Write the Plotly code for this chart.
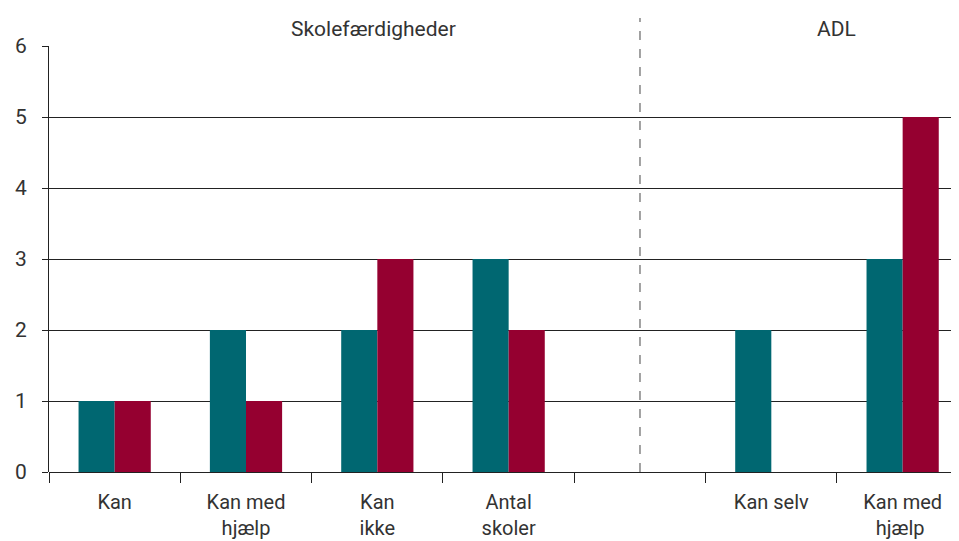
import plotly.graph_objects as go

categories = ["Kan", "Kan med<br>hjælp", "Kan<br>ikke", "Antal<br>skoler", " ", "Kan selv", "Kan med<br>hjælp "]
series_a = [1, 2, 2, 3, None, 2, 3]
series_b = [1, 1, 3, 2, None, 0, 5]

TEAL = "#006771"
CRIMSON = "#950030"
TEXT = "#333333"
FONT = "Roboto, Open Sans, sans-serif"

fig = go.Figure()
fig.add_trace(go.Bar(x=categories, y=series_a, marker=dict(color=TEAL, line=dict(width=0)), name="A"))
fig.add_trace(go.Bar(x=categories, y=series_b, marker=dict(color=CRIMSON, line=dict(width=0)), name="B"))

# page body has an 8px margin, so margins are set relative to that offset
fig.update_layout(
    width=959,
    height=541,
    barmode="group",
    bargap=0.45,
    bargroupgap=0,
    showlegend=False,
    plot_bgcolor="white",
    paper_bgcolor="white",
    margin=dict(l=41, r=0, t=38, b=77, autoexpand=False),
    font=dict(family=FONT, size=21, color=TEXT),
    xaxis=dict(
        type="category",
        range=[-0.5, 6.49],
        tickson="boundaries",
        ticks="outside",
        ticklen=10,
        tickcolor="#222222",
        showgrid=False,
        showline=False,
        zeroline=False,
        automargin=False,
        tickfont=dict(size=20, color=TEXT),
        ticklabelstandoff=16,
    ),
    yaxis=dict(
        range=[0, 6],
        dtick=1,
        ticks="outside",
        ticklen=6,
        tickcolor="#222222",
        showgrid=True,
        gridcolor="#222222",
        gridwidth=1,
        showline=True,
        linecolor="#222222",
        linewidth=1,
        zeroline=True,
        zerolinecolor="#222222",
        zerolinewidth=1,
        automargin=False,
        tickfont=dict(size=21, color=TEXT),
        ticklabelstandoff=11,
    ),
    shapes=[
        dict(
            type="line",
            xref="x",
            yref="paper",
            x0=4,
            x1=4,
            y0=0,
            y1=1.066,
            line=dict(color="#666666", width=1.2, dash="dash"),
        )
    ],
    annotations=[
        dict(text="Skolefærdigheder", xref="x", yref="paper", x=1.97, y=1.041,
             yanchor="middle", showarrow=False, font=dict(size=21, color=TEXT)),
        dict(text="ADL", xref="x", yref="paper", x=5.5, y=1.041,
             yanchor="middle", showarrow=False, font=dict(size=21, color=TEXT)),
    ],
)

fig.write_html("out.html")
